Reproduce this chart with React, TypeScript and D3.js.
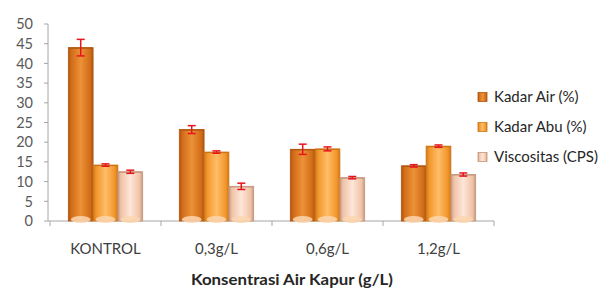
import React, { useEffect } from "react";
import * as d3 from "d3";

const categories = ["KONTROL", "0,3g/L", "0,6g/L", "1,2g/L"];
const seriesNames = ["Kadar Air (%)", "Kadar Abu (%)", "Viscositas (CPS)"];
const kadarAir = [44, 23.2, 18.2, 14];
const kadarAbu = [14.2, 17.5, 18.3, 19];
const viscositas = [12.5, 8.8, 11, 11.8];
const errAir = [2.1, 1, 1.3, 0.3];
const errAbu = [0.3, 0.3, 0.5, 0.3];
const errVisc = [0.4, 0.8, 0.3, 0.4];
const yTicks = [0, 5, 10, 15, 20, 25, 30, 35, 40, 45, 50];

const colors = [
	{ edge: "#b05510", mid: "#ec9238", base: "#d26c18" },
	{ edge: "#cc7516", mid: "#ffbd68", base: "#f2952a" },
	{ edge: "#c4967c", mid: "#fde6d8", base: "#f0c2a6" },
];

const App = () => {
	useEffect(() => {
		document.body.style.margin = "0";
	}, []);

	const margin = { top: 24, left: 48, right: 494, bottom: 221 };
	const x0 = d3.scaleBand().domain(categories).range([50, 494]).paddingInner(0.33).paddingOuter(0.165);
	const x1 = d3.scaleBand().domain(seriesNames).range([0, x0.bandwidth()]);
	const y = d3.scaleLinear().domain([0, 50]).range([margin.bottom, margin.top]);

	const values = [kadarAir, kadarAbu, viscositas];
	const errs = [errAir, errAbu, errVisc];
	const font = "Lato, 'Open Sans', sans-serif";
	const boundaries = d3.range(categories.length + 1).map((i) => 50 + i * (444 / 4));

	return (
		<svg width={608} height={293} style={{ display: "block", background: "#fff" }}>
			<defs>
				{colors.map((c, i) => (
					<linearGradient key={i} id={`g${i}`} x1="0" x2="1" y1="0" y2="0">
						<stop offset="0" stopColor={c.edge} />
						<stop offset="0.12" stopColor={c.base} />
						<stop offset="0.5" stopColor={c.mid} />
						<stop offset="0.88" stopColor={c.base} />
						<stop offset="1" stopColor={c.edge} />
					</linearGradient>
				))}
			</defs>
			{/* y axis */}
			<line x1={margin.left} x2={margin.left} y1={margin.top} y2={margin.bottom} stroke="#a6a6a6" />
			{yTicks.map((t) => (
				<g key={t}>
					<line x1={margin.left - 4} x2={margin.left} y1={y(t)} y2={y(t)} stroke="#a6a6a6" />
					<text x={33} y={y(t)} dy="0.36em" textAnchor="end" fontFamily={font} fontSize={14.5} fill="#595959">
						{t}
					</text>
				</g>
			))}
			{/* x axis */}
			<line x1={margin.left} x2={margin.right} y1={margin.bottom} y2={margin.bottom} stroke="#a6a6a6" />
			{boundaries.map((b, i) => (
				<line key={i} x1={b} x2={b} y1={margin.bottom} y2={margin.bottom + 5} stroke="#a6a6a6" />
			))}
			{categories.map((c) => (
				<text key={c} x={(x0(c) || 0) + x0.bandwidth() / 2} y={254} textAnchor="middle" fontFamily={font} fontSize={15} fill="#404040">
					{c}
				</text>
			))}
			{/* bars */}
			{categories.map((c, ci) => (
				<g key={c} transform={`translate(${x0(c)},0)`}>
					{seriesNames.map((s, si) => {
						const v = values[si][ci];
						const bx = x1(s) || 0;
						const bw = x1.bandwidth();
						const e = errs[si][ci];
						const cx = bx + bw / 2;
						return (
							<g key={s}>
								<rect x={bx} y={y(v)} width={bw} height={y(0) - y(v)} fill={`url(#g${si})`} stroke={colors[si].edge} strokeWidth={0.8} />
								<line x1={bx + 1} x2={bx + bw - 1} y1={y(v) + 0.5} y2={y(v) + 0.5} stroke={colors[si].edge} strokeWidth={1.2} />
								<ellipse cx={cx} cy={y(0) - 1.5} rx={bw / 2 - 2.5} ry={3.5} fill="#fcd6b0" opacity={0.85} />
								<line x1={cx} x2={cx} y1={y(v + e)} y2={y(v - e)} stroke="#e8141c" strokeWidth={1.5} />
								<line x1={cx - 4} x2={cx + 4} y1={y(v + e)} y2={y(v + e)} stroke="#e8141c" strokeWidth={1.5} />
								<line x1={cx - 4} x2={cx + 4} y1={y(v - e)} y2={y(v - e)} stroke="#e8141c" strokeWidth={1.5} />
							</g>
						);
					})}
				</g>
			))}
			{/* legend */}
			{seriesNames.map((s, i) => (
				<g key={s} transform={`translate(478,${97 + i * 30})`}>
					<rect x={0} y={-4.5} width={9} height={9} fill={`url(#g${i})`} stroke={colors[i].edge} strokeWidth={0.8} />
					<text x={16} y={0} dy="0.36em" fontFamily={font} fontSize={15} fill="#262626">
						{s}
					</text>
				</g>
			))}
			<text x={292} y={285} textAnchor="middle" fontFamily={font} fontSize={16} fontWeight="bold" fill="#262626" textLength={202} lengthAdjust="spacingAndGlyphs">
				Konsentrasi Air Kapur (g/L)
			</text>
		</svg>
	);
};

export default App;
